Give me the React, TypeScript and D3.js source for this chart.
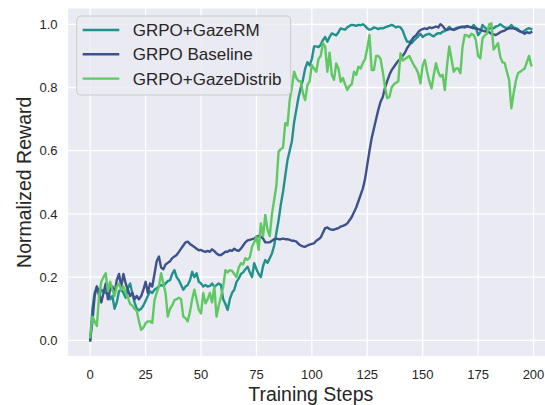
import React from 'react';
import * as d3 from 'd3';

// values, one per training step (0..199)
const baseline = [
  0.00, 0.06, 0.14, 0.17, 0.15, 0.12, 0.15, 0.18, 0.13, 0.16,
  0.17, 0.15, 0.19, 0.21, 0.17, 0.21, 0.18, 0.16, 0.14, 0.15,
  0.13, 0.14, 0.13, 0.14, 0.16, 0.185, 0.15, 0.18, 0.17, 0.21,
  0.25, 0.265, 0.23, 0.225, 0.24, 0.245, 0.25, 0.26, 0.265, 0.27,
  0.28, 0.29, 0.30, 0.31, 0.312, 0.305, 0.30, 0.295, 0.29, 0.285,
  0.286, 0.282, 0.28, 0.283, 0.28, 0.288, 0.282, 0.275, 0.27, 0.27,
  0.275, 0.28, 0.28, 0.285, 0.283, 0.29, 0.285, 0.283, 0.29, 0.30,
  0.31, 0.316, 0.318, 0.32, 0.322, 0.328, 0.33, 0.328, 0.322, 0.31,
  0.31, 0.31, 0.315, 0.32, 0.322, 0.32, 0.32, 0.322, 0.32, 0.32,
  0.318, 0.315, 0.315, 0.312, 0.305, 0.30, 0.297, 0.296, 0.30, 0.303,
  0.305, 0.307, 0.315, 0.32, 0.325, 0.34, 0.355, 0.357, 0.352, 0.35,
  0.35, 0.353, 0.355, 0.36, 0.362, 0.365, 0.37, 0.38, 0.39, 0.405,
  0.42, 0.44, 0.46, 0.48, 0.51, 0.555, 0.60, 0.64, 0.67, 0.70,
  0.73, 0.755, 0.77, 0.80, 0.82, 0.84, 0.855, 0.865, 0.875, 0.885,
  0.89, 0.90, 0.91, 0.925, 0.935, 0.95, 0.96, 0.965, 0.975, 0.982,
  0.985, 0.987, 0.985, 0.99, 0.988, 0.99, 0.993, 0.99, 1.0, 0.995,
  0.985, 0.982, 0.985, 0.985, 0.982, 0.985, 0.988, 0.99, 0.993, 0.99,
  0.995, 0.992, 0.99, 0.987, 0.988, 0.985, 0.983, 0.98, 0.978, 0.977,
  0.975, 0.97, 0.968, 0.966, 0.97, 0.975, 0.978, 0.98, 0.985, 0.987,
  0.987, 0.987, 0.985, 0.98, 0.978, 0.975, 0.97, 0.975, 0.972, 0.975,
];

const gazeRM = [
  0.00, 0.10, 0.15, 0.17, 0.14, 0.16, 0.155, 0.15, 0.16, 0.13,
  0.14, 0.10, 0.12, 0.155, 0.16, 0.15, 0.135, 0.165, 0.18, 0.15,
  0.12, 0.10, 0.095, 0.10, 0.11, 0.125, 0.14, 0.155, 0.15, 0.16,
  0.165, 0.17, 0.175, 0.172, 0.18, 0.187, 0.19, 0.21, 0.222, 0.20,
  0.19, 0.175, 0.16, 0.17, 0.175, 0.19, 0.217, 0.20, 0.212, 0.185,
  0.18, 0.17, 0.175, 0.17, 0.172, 0.18, 0.168, 0.175, 0.18, 0.175,
  0.13, 0.115, 0.096, 0.13, 0.15, 0.16, 0.185, 0.195, 0.21, 0.215,
  0.225, 0.233, 0.215, 0.20, 0.244, 0.225, 0.21, 0.20, 0.235, 0.254,
  0.245, 0.26, 0.275, 0.30, 0.34, 0.38, 0.43, 0.47, 0.52, 0.57,
  0.60, 0.63, 0.69, 0.73, 0.77, 0.80, 0.825, 0.86, 0.88, 0.87,
  0.89, 0.93, 0.93, 0.928, 0.935, 0.95, 0.96, 0.945, 0.96, 0.971,
  0.968, 0.965, 0.975, 0.987, 0.985, 0.983, 0.99, 0.995, 0.998, 0.997,
  0.995, 0.998, 0.997, 1.0, 0.995, 0.987, 0.983, 0.985, 0.99, 0.988,
  0.985, 0.988, 0.987, 0.99, 0.993, 0.995, 0.998, 0.995, 0.99, 0.993,
  0.99, 0.98, 0.96, 0.945, 0.945, 0.94, 0.948, 0.955, 0.962, 0.97,
  0.96, 0.965, 0.968, 0.97, 0.965, 0.962, 0.968, 0.972, 0.971, 0.977,
  0.978, 0.985, 0.992, 0.985, 0.983, 0.988, 0.99, 0.992, 0.99, 0.993,
  0.992, 0.992, 0.99, 0.998, 0.99, 0.966, 0.975, 0.998, 0.99, 0.983,
  0.985, 0.99, 0.987, 0.993, 0.995, 1.0, 0.995, 0.99, 0.988, 0.99,
  0.998, 0.99, 0.988, 0.985, 0.976, 0.975, 0.98, 0.985, 0.988, 0.985,
];

const gazeDistrib = [
  0.01, 0.075, 0.06, 0.045, 0.14, 0.185, 0.20, 0.212, 0.155, 0.185,
  0.16, 0.14, 0.17, 0.18, 0.16, 0.17, 0.15, 0.135, 0.115, 0.11,
  0.10, 0.093, 0.06, 0.033, 0.04, 0.054, 0.06, 0.06, 0.055, 0.127,
  0.15, 0.17, 0.212, 0.18, 0.15, 0.075, 0.10, 0.11, 0.127, 0.13,
  0.135, 0.13, 0.075, 0.07, 0.06, 0.09, 0.13, 0.16, 0.13, 0.097,
  0.085, 0.15, 0.117, 0.13, 0.15, 0.12, 0.17, 0.075, 0.11, 0.138,
  0.17, 0.222, 0.215, 0.222, 0.22, 0.21, 0.20, 0.23, 0.244, 0.24,
  0.26, 0.255, 0.262, 0.296, 0.31, 0.328, 0.286, 0.37, 0.33, 0.397,
  0.35, 0.33, 0.40, 0.444, 0.49, 0.597, 0.605, 0.61, 0.687, 0.68,
  0.76, 0.80, 0.85, 0.83, 0.82, 0.82, 0.78, 0.76, 0.808, 0.82,
  0.871, 0.86, 0.85, 0.89, 0.90, 0.94, 0.93, 0.85, 0.91, 0.84,
  0.824, 0.876, 0.86, 0.818, 0.83, 0.81, 0.792, 0.805, 0.81, 0.85,
  0.84, 0.866, 0.86, 0.877, 0.89, 0.924, 0.966, 0.855, 0.855, 0.90,
  0.90, 0.89, 0.85, 0.802, 0.766, 0.77, 0.80, 0.81, 0.815, 0.82,
  0.908, 0.885, 0.89, 0.895, 0.90, 0.885, 0.871, 0.86, 0.845, 0.813,
  0.87, 0.887, 0.85, 0.82, 0.797, 0.84, 0.877, 0.85, 0.835, 0.84,
  0.792, 0.87, 0.93, 0.89, 0.85, 0.86, 0.86, 0.845, 0.93, 0.966,
  0.965, 0.96, 0.97, 0.966, 0.95, 0.90, 0.892, 0.955, 0.965, 0.97,
  1.0, 1.003, 0.92, 0.93, 0.94, 0.897, 0.88, 0.877, 0.85, 0.824,
  0.734, 0.78, 0.82, 0.845, 0.85, 0.855, 0.86, 0.88, 0.90, 0.87,
];

const seriesNames = ['GRPO+GazeRM', 'GRPO Baseline', 'GRPO+GazeDistrib'];
const seriesColors = ['#21918c', '#3b528b', '#5ec962'];
const xTicks = [0, 25, 50, 75, 100, 125, 150, 175, 200];
const yTicks = [0.0, 0.2, 0.4, 0.6, 0.8, 1.0];

const W = 545;
const H = 405;
const FONT = '"Liberation Sans", Arial, sans-serif';

export default function App() {
  const x = d3.scaleLinear().domain([0, 200]).range([90.2, 533.5]);
  const y = d3.scaleLinear().domain([0, 1]).range([340.3, 24.3]);

  // matplotlib-like 5% margins
  const left = x(-9.95);
  const right = x(208.95);
  const top = y(1.05);
  const bottom = y(-0.05);

  const line = d3.line<number>()
    .x((_, i) => x(i))
    .y(d => y(d));

  const allSeries = [gazeRM, baseline, gazeDistrib];
  // draw order: GazeRM, Baseline, GazeDistrib (last on top)
  const legendY = [30, 54.3, 78.6];

  return (
    <svg width={W} height={H} style={{position: 'absolute', left: 0, top: 0}}
         fontFamily={FONT}>
      <rect x={0} y={0} width={W} height={H} fill="#ffffff"/>
      <defs>
        <clipPath id="plot">
          <rect x={left} y={top} width={right - left} height={bottom - top}/>
        </clipPath>
      </defs>
      <rect x={left} y={top} width={right - left} height={bottom - top} fill="#eaeaf2"/>
      {xTicks.map(t => (
        <line key={'gx' + t} x1={x(t)} x2={x(t)} y1={top} y2={bottom}
              stroke="#ffffff" strokeWidth={1.3}/>
      ))}
      {yTicks.map(t => (
        <line key={'gy' + t} x1={left} x2={right} y1={y(t)} y2={y(t)}
              stroke="#ffffff" strokeWidth={1.3}/>
      ))}
      <g clipPath="url(#plot)">
        {allSeries.map((s, i) => (
          <path key={seriesNames[i]} d={line(s) || ''} fill="none"
                stroke={seriesColors[i]} strokeWidth={2.4}
                strokeLinejoin="round" strokeLinecap="square"/>
        ))}
      </g>
      {xTicks.map(t => (
        <text key={'tx' + t} x={x(t)} y={379} textAnchor="middle"
              fontSize={13} fill="#262626">{t}</text>
      ))}
      {yTicks.map(t => (
        <text key={'ty' + t} x={57.5} y={y(t) + 4.6} textAnchor="end"
              fontSize={13} fill="#262626">{t.toFixed(1)}</text>
      ))}
      <text x={(left + right) / 2} y={401} textAnchor="middle"
            fontSize={19.5} fill="#262626">Training Steps</text>
      <text transform={`translate(31, ${(top + bottom) / 2}) rotate(-90)`}
            textAnchor="middle" fontSize={19.5} fill="#262626">Normalized Reward</text>
      <g>
        <rect x={76.7} y={16} width={214} height={79} rx={4} ry={4}
              fill="#eaeaf2" fillOpacity={0.8} stroke="#cccccc" strokeWidth={1}/>
        {seriesNames.map((name, i) => (
          <g key={name}>
            <line x1={82.7} x2={119.3} y1={legendY[i]} y2={legendY[i]}
                  stroke={seriesColors[i]} strokeWidth={2.4}/>
            <text x={132.7} y={legendY[i] + 6} fontSize={17} fill="#262626">{name}</text>
          </g>
        ))}
      </g>
    </svg>
  );
}
